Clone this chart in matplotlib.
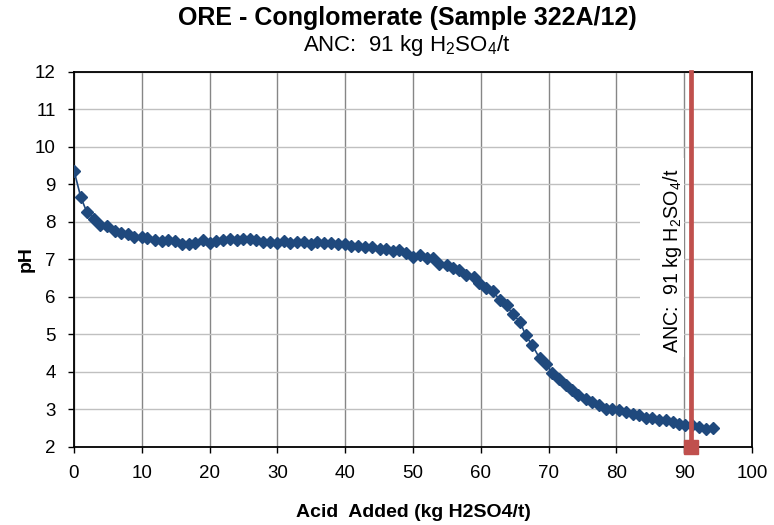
import matplotlib
matplotlib.use("Agg")
import matplotlib.pyplot as plt
from matplotlib.patches import Rectangle

plt.rcParams['font.family'] = ['Liberation Sans', 'DejaVu Sans']
plt.rcParams['mathtext.fontset'] = 'custom'
plt.rcParams['mathtext.rm'] = 'Liberation Sans'
plt.rcParams['mathtext.default'] = 'regular'

# titration data
acid = [0, 1.0, 1.9, 3.0, 3.9, 4.9, 6.0, 7.0, 7.9, 8.9, 10.0, 10.8, 11.9, 13.0, 13.9,
        14.9, 16.0, 16.9, 17.9, 19.0, 20.1, 21.0, 22.0, 23.0, 24.0, 24.9, 25.9, 26.9,
        27.9, 28.9, 29.9, 30.9, 31.9, 32.9, 33.9, 34.9, 35.9, 36.9, 37.9, 38.9, 39.9,
        40.9, 41.9, 42.9, 44.0, 45.2, 46.0, 47.0, 47.9, 49.0, 50.0, 51.0, 52.0, 53.0,
        53.9, 55.0, 55.9, 56.8, 57.8, 59.0, 59.7, 60.7, 61.8, 62.8, 63.8, 64.7, 65.8,
        66.6, 67.6, 68.7, 69.6, 70.5, 71.6, 72.6, 73.5, 74.4, 75.5, 76.4, 77.4, 78.5,
        79.4, 80.4, 81.4, 82.4, 83.4, 84.3, 85.3, 86.3, 87.3, 88.3, 89.2, 90.1, 91.2,
        92.2, 93.2, 94.2]
ph = [9.37, 8.66, 8.26, 8.09, 7.92, 7.89, 7.76, 7.71, 7.68, 7.59, 7.59, 7.57, 7.52,
      7.50, 7.52, 7.49, 7.42, 7.41, 7.43, 7.52, 7.45, 7.50, 7.52, 7.54, 7.52, 7.54,
      7.54, 7.52, 7.47, 7.47, 7.45, 7.50, 7.43, 7.46, 7.46, 7.41, 7.46, 7.43, 7.43,
      7.41, 7.41, 7.37, 7.36, 7.32, 7.32, 7.27, 7.27, 7.23, 7.25, 7.16, 7.07, 7.12,
      7.03, 7.03, 6.89, 6.85, 6.76, 6.73, 6.58, 6.54, 6.38, 6.23, 6.16, 5.91, 5.78,
      5.54, 5.34, 4.98, 4.71, 4.36, 4.22, 3.98, 3.80, 3.65, 3.51, 3.38, 3.29, 3.20,
      3.11, 3.02, 3.02, 2.98, 2.93, 2.89, 2.85, 2.77, 2.76, 2.73, 2.73, 2.67, 2.60,
      2.58, 2.58, 2.53, 2.49, 2.51]

anc = 91
anc_line_x = [anc, anc]
anc_line_y = [2, 12]
anc_label = r'ANC:  91 kg H$_2$SO$_4$/t'

fig = plt.figure(figsize=(7.74, 5.25), dpi=100)
ax = fig.add_axes([0.0956, 0.1486, 0.876, 0.7144])

ax.plot(acid, ph, color='#1F497D', lw=1.2, marker='D', ms=6, zorder=3)
ax.plot(anc_line_x, anc_line_y, color='#C0504D', lw=3.4, zorder=4, clip_on=False)
ax.plot([anc], [2], color='#C0504D', marker='s', ms=9.5, ls='none', zorder=5, clip_on=False)

# white label box behind the rotated ANC text (hides the gridlines like the original)
ax.add_patch(Rectangle((83.5, 4.4), 6.4, 5.3, facecolor='white', edgecolor='none', zorder=2))
ax.text(89.95, 6.96, anc_label, rotation=90, ha='right', va='center', fontsize=14.2,
        zorder=2.5)

ax.set_xlim(0, 100)
ax.set_ylim(2, 12)
ax.set_xticks(range(0, 101, 10))
ax.set_yticks(range(2, 13))
ax.grid(axis='x', color='#868686', lw=1)
ax.grid(axis='y', color='#C0C0C0', lw=1)
ax.set_axisbelow(True)
for s in ax.spines.values():
    s.set_linewidth(1.3)
ax.tick_params(labelsize=13.5, length=4, width=1, pad=9)
ax.tick_params(axis='x', pad=9)

ax.set_xlabel('Acid  Added (kg H2SO4/t)', fontsize=14, fontweight='bold', labelpad=16)
ax.set_ylabel('pH', fontsize=14, fontweight='bold', labelpad=0)

fig.text(0.526, 0.966, 'ORE - Conglomerate (Sample 322A/12)', ha='center', va='center',
         fontsize=18, fontweight='bold')
fig.text(0.525, 0.914, anc_label, ha='center', va='center', fontsize=16)

fig.savefig('out.png', dpi=100)
